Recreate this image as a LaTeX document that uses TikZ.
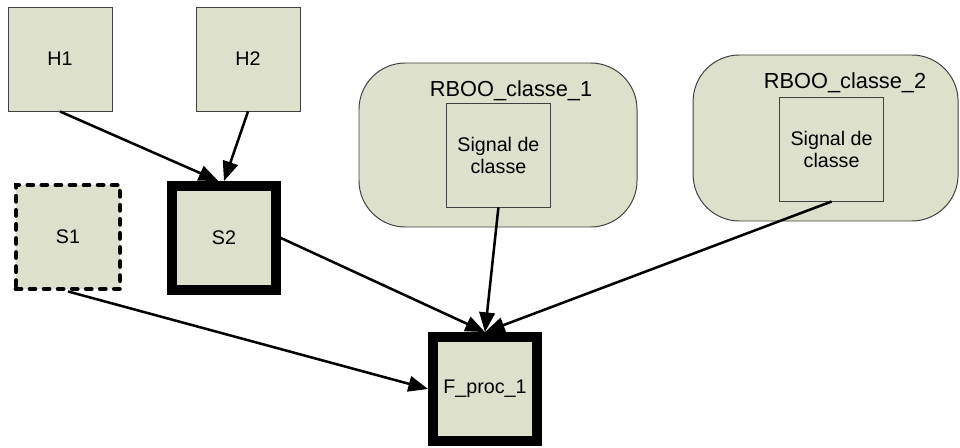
\documentclass[tikz,border=0pt]{standalone}
\usepackage{fontspec}
\setmainfont{Liberation Sans}
\usetikzlibrary{arrows.meta}

\definecolor{fondboite}{RGB}{221,224,203}
\definecolor{bordfin}{RGB}{64,64,64}

\tikzset{
    boite/.style={draw=bordfin, line width=0.7pt, fill=fondboite, minimum width=2.6cm, minimum height=2.6cm,
        inner sep=0pt, align=center, font=\fontsize{14}{15.6}\selectfont},
    boiteepaisse/.style={boite, draw=black, line width=7pt},
    boitepointillee/.style={boite, draw=black, line width=3.5pt, dash pattern=on 3.5pt off 6.5pt, line cap=round},
    conteneur/.style={draw=bordfin, line width=0.7pt, fill=fondboite, rounded corners=33pt, inner sep=0pt},
    titre/.style={font=\fontsize{15.5}{18}\selectfont, inner sep=0pt},
    fleche/.style={-{Triangle[length=14pt,width=11pt]}, line width=1.8pt},
}

\begin{document}
\begin{tikzpicture}
        \useasboundingbox (0,0) rectangle (24,-11.175);

        % Conteneurs RBOO
        \node[conteneur, minimum width=6.95cm, minimum height=4.1cm] (rboo1) at (12.45,-3.625) {};
        \node[titre] (titre1) at (12.775,-2.275) {RBOO\_classe\_1};
        \node[boite] (sig1) at (12.46,-3.875) {Signal de\\classe};

        \node[conteneur, minimum width=6.625cm, minimum height=4.15cm] (rboo2) at (20.64,-3.45) {};
        \node[titre] (titre2) at (21.125,-2.075) {RBOO\_classe\_2};
        \node[boite] (sig2) at (20.79,-3.725) {Signal de\\classe};

        % Boites simples
        \node[boite] (H1) at (1.5,-1.475) {H1};
        \node[boite] (H2) at (6.2,-1.475) {H2};
        \node[boitepointillee] (S1) at (1.7,-5.925) {S1};
        \node[boiteepaisse] (S2) at (5.6,-5.95) {S2};
        \node[boiteepaisse] (F) at (12.125,-9.725) {F\_proc\_1};

        % Fleches
        \draw[fleche] (H1.south) -- ([xshift=-4pt]S2.north);
        \draw[fleche] (H2.south) -- (S2.north);
        \draw[fleche] (S2.east) -- (F.north);
        \draw[fleche] (S1.south) -- (F.west);
        \draw[fleche] (sig1.south) -- (F.north);
        \draw[fleche] (sig2.south) -- (F.north);

\end{tikzpicture}
\end{document}
